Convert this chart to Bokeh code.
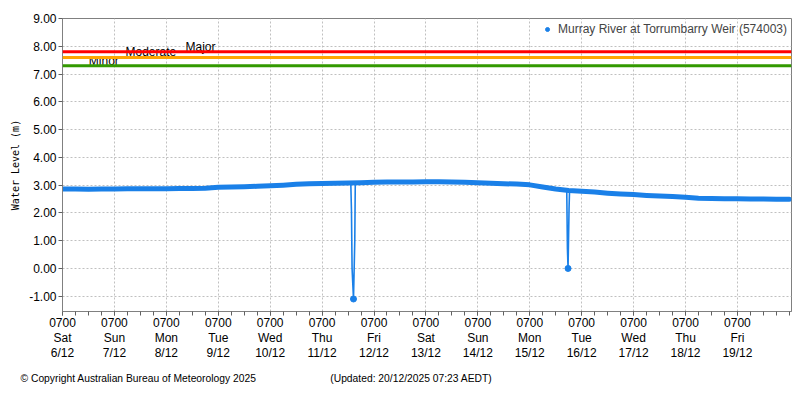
import pandas as pd
from bokeh.plotting import figure
from bokeh.models import (Range1d, FixedTicker, NumeralTickFormatter, Span,
                          Legend, LegendItem, Title)
from bokeh.embed import file_html
from bokeh.resources import INLINE
from bokeh.core.properties import value

# ---------------- data ----------------
series_name = "Murray River at Torrumbarry Weir (574003)"

# 6-hourly water level readings (m) starting 0700 Sat 6/12/2025
levels = [
    2.86, 2.86, 2.85, 2.86,   # 6/12
    2.86, 2.87, 2.87, 2.87,   # 7/12
    2.87, 2.88, 2.88, 2.89,   # 8/12
    2.92, 2.93, 2.94, 2.96,   # 9/12
    2.98, 3.00, 3.03, 3.05,   # 10/12
    3.06, 3.07, 3.08, 3.09,   # 11/12
    3.10, 3.11, 3.11, 3.11,   # 12/12
    3.12, 3.12, 3.11, 3.10,   # 13/12
    3.09, 3.07, 3.05, 3.04,   # 14/12
    3.01, 2.93, 2.86, 2.81,   # 15/12
    2.78, 2.75, 2.71, 2.68,   # 16/12
    2.66, 2.63, 2.61, 2.59,   # 17/12
    2.56, 2.53, 2.52, 2.51,   # 18/12
    2.51, 2.50, 2.50, 2.49,   # 19/12
    2.49,                     # 20/12
]
times = pd.date_range("2025-12-06 07:00", periods=len(levels), freq="6h")

# short drop-outs in the record
dip1_times = pd.to_datetime(["2025-12-11 20:16", "2025-12-11 20:35", "2025-12-11 20:52",
                             "2025-12-11 21:31", "2025-12-11 22:07", "2025-12-11 22:21"])
dip1_levels = [3.09, 2.08, 0.00, -1.10, 1.00, 3.10]
dip2_times = pd.to_datetime(["2025-12-16 00:06", "2025-12-16 00:25", "2025-12-16 00:42",
                             "2025-12-16 01:10", "2025-12-16 01:24"])
dip2_levels = [2.82, 0.72, 0.00, 2.15, 2.81]

# flood classification levels
class_names = ["Minor", "Moderate", "Major"]
class_levels = [7.30, 7.60, 7.80]
class_colors = ["#339900", "#ffa500", "#ff0000"]
class_label_times = pd.to_datetime(["2025-12-06 19:10", "2025-12-07 12:07", "2025-12-08 15:52"])

# x axis ticks
tick_times = pd.date_range("2025-12-06 07:00", periods=14, freq="1D")
tick_days = ["Sat", "Sun", "Mon", "Tue", "Wed", "Thu", "Fri",
             "Sat", "Sun", "Mon", "Tue", "Wed", "Thu", "Fri"]
tick_dates = ["6/12", "7/12", "8/12", "9/12", "10/12", "11/12", "12/12",
              "13/12", "14/12", "15/12", "16/12", "17/12", "18/12", "19/12"]
minor_times = pd.date_range("2025-12-06 07:00", "2025-12-20 07:00", freq="6h")
y_ticks = list(range(-1, 10))

copyright_text = "\u00a9 Copyright Australian Bureau of Meteorology 2025"
updated_text = "(Updated: 20/12/2025 07:23 AEDT)"

# ---------------- styling ----------------
BLUE = "#1a80e8"
FONT = "Liberation Sans"


def ms(t):
    return pd.Timestamp(t).timestamp() * 1000.0


p = figure(width=792, height=392, x_axis_type="datetime",
           output_backend="svg", toolbar_location=None,
           x_range=Range1d(ms("2025-12-06 07:00"), ms("2025-12-20 08:00")),
           y_range=Range1d(-1.55, 9.0),
           min_border_left=62, min_border_right=1,
           min_border_top=18, min_border_bottom=81)
p.background_fill_color = "white"
p.border_fill_color = "white"
p.outline_line_color = "#808080"
p.outline_line_width = 1

# classification labels (drawn first so lines sit over them)
p.text(x=class_label_times, y=class_levels, text=class_names,
       text_font=value(FONT), text_font_size="12px", text_color="black",
       text_baseline="alphabetic", text_align="left", y_offset=-5)

for lvl, col in zip(class_levels, class_colors):
    p.add_layout(Span(location=lvl, dimension="width", line_color=col, line_width=3))

# main series: thick noisy band
p.line(times, levels, line_color=BLUE, line_width=5, line_join="round", line_cap="round")
# drop-outs
p.line(dip1_times, dip1_levels, line_color=BLUE, line_width=1.6)
p.line(dip2_times, dip2_levels, line_color=BLUE, line_width=1.6)
i1 = dip1_levels.index(min(dip1_levels))
i2 = dip2_levels.index(min(dip2_levels))
pts = p.scatter([dip1_times[i1], dip2_times[i2]], [dip1_levels[i1], dip2_levels[i2]],
                marker="circle", size=6, fill_color=BLUE, line_color=BLUE)

# legend
legend = Legend(items=[LegendItem(label=series_name, renderers=[pts])],
                location="top_right", border_line_alpha=0, background_fill_alpha=0,
                label_text_font=FONT, label_text_font_size="12px",
                glyph_width=10, glyph_height=12, label_height=12,
                label_standoff=6, padding=3, margin=1)
p.add_layout(legend)

# axes
xa = p.xaxis[0]
xa.ticker = FixedTicker(ticks=[ms(t) for t in tick_times],
                        minor_ticks=[ms(t) for t in minor_times])
xa.major_label_overrides = {ms(t): f"0700\n{d}\n{dt}"
                            for t, d, dt in zip(tick_times, tick_days, tick_dates)}
xa.major_label_text_font = FONT
xa.major_label_text_font_size = "12px"
xa.major_label_text_color = "black"
xa.major_label_text_line_height = 1.1
xa.major_label_standoff = 0
xa.major_tick_out = 4
xa.major_tick_in = 0
xa.minor_tick_out = 4
xa.minor_tick_in = 0
xa.axis_line_color = "#808080"
xa.major_tick_line_color = "#606060"
xa.minor_tick_line_color = "#606060"

ya = p.yaxis[0]
ya.ticker = FixedTicker(ticks=y_ticks, minor_ticks=[])
ya.formatter = NumeralTickFormatter(format="0.00")
ya.major_label_text_font = FONT
ya.major_label_text_font_size = "12px"
ya.major_label_text_color = "black"
ya.major_label_standoff = 2
ya.major_tick_out = 4
ya.major_tick_in = 0
ya.axis_line_color = "#808080"
ya.major_tick_line_color = "#606060"
ya.axis_label = "Water Level (m)"
ya.axis_label_text_font = "DejaVu Sans Mono"
ya.axis_label_text_font_size = "10px"
ya.axis_label_text_font_style = "normal"
ya.axis_label_text_color = "black"
ya.axis_label_standoff = 5

for g in (p.xgrid[0], p.ygrid[0]):
    g.grid_line_color = "#c0c0c0"
    g.grid_line_dash = "2 2"
    g.grid_line_width = 1

# footer (single line below the axis)
gap = "\u00a0" * 26
p.add_layout(Title(text=copyright_text + gap + updated_text, align="left", offset=-42,
                   text_font=FONT, text_font_size="10.3px", text_font_style="normal",
                   text_color="black", standoff=14), "below")

open("out.html", "w").write(file_html(p, INLINE))
